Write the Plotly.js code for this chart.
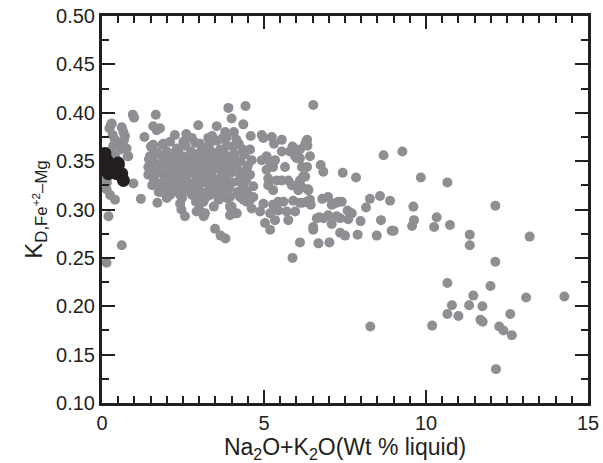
<!DOCTYPE html>
<html>
<head>
<meta charset="utf-8">
<script src="https://cdn.plot.ly/plotly-3.0.1.min.js"></script>
<style>
html,body{margin:0;padding:0;background:#fff;}
#chart{width:603px;height:463px;}
</style>
</head>
<body>
<div id="chart"></div>
<script>
// ---- Data (x = Na2O+K2O wt%, y = KD Fe2+-Mg) ----
// gray points, low-alkali column (x < 1.4)
const grayLowAlkali = [
  [0.27,0.387],[0.23,0.384],[0.95,0.398],[0.99,0.395],[0.30,0.389],[0.61,0.385],[0.66,0.380],
  [0.71,0.376],[0.33,0.377],[0.40,0.372],[0.35,0.366],[0.45,0.368],[0.50,0.367],[0.56,0.362],
  [0.76,0.363],[0.68,0.372],[0.81,0.355],[0.79,0.355],[0.97,0.327],[0.14,0.321],[0.25,0.315],
  [0.40,0.310],[0.20,0.293],[0.61,0.263],[0.14,0.245],[1.20,0.311],[1.31,0.375],
  [0.25,0.360],[0.40,0.355],[0.15,0.328],[0.55,0.345],[0.10,0.335]
];
// gray points, dense cloud (1.4 < x < 4.7)
const grayCloud = [
  [1.66,0.398],[1.58,0.386],[1.69,0.382],[1.79,0.384],[1.51,0.365],[1.58,0.367],[1.87,0.367],
  [2.25,0.377],[2.97,0.387],[3.54,0.386],[3.90,0.405],[4.43,0.407],[4.00,0.394],[4.36,0.388],
  [3.80,0.380],[3.85,0.375],[4.07,0.380],[1.48,0.355],[1.71,0.307],[2.41,0.306],[2.56,0.293],
  [2.92,0.298],[3.14,0.293],[3.49,0.280],[3.66,0.273],[3.81,0.270],[3.95,0.303],[3.95,0.294],
  [4.16,0.296],[1.43,0.344],[1.43,0.336],[1.58,0.356],[1.84,0.325],[1.84,0.318],[2.10,0.315],
  [2.41,0.315],[2.72,0.318],[3.02,0.315],[3.23,0.318],[2.00,0.360],[2.31,0.363],[2.51,0.370],
  [2.77,0.374],[3.02,0.368],[3.28,0.374],[1.89,0.368],[4.05,0.365],[4.05,0.353],[4.05,0.344],
  [4.26,0.336],[4.21,0.329],[4.36,0.324],[3.85,0.312],[4.00,0.303],[4.05,0.296],[4.26,0.313],
  [4.47,0.308],[3.64,0.315],[3.33,0.315],[3.13,0.308],[3.18,0.296],[4.57,0.362],[4.62,0.351],
  [4.57,0.336],[4.47,0.318],[4.57,0.310],[4.67,0.324],[4.36,0.310],[4.67,0.313],[4.62,0.301],
  [1.45,0.352],[1.52,0.340],[1.60,0.331],[1.62,0.348],[1.70,0.359],[1.72,0.338],[1.78,0.327],
  [1.80,0.346],[1.85,0.355],[1.90,0.336],[1.95,0.322],[1.98,0.349],[2.02,0.341],[2.05,0.331],
  [2.08,0.358],[2.12,0.326],[2.15,0.346],[2.18,0.336],[2.22,0.319],[2.25,0.353],[2.28,0.342],
  [2.32,0.330],[2.35,0.361],[2.38,0.323],[2.40,0.348],[2.43,0.337],[2.47,0.312],[2.50,0.355],
  [2.52,0.329],[2.55,0.343],[2.58,0.366],[2.60,0.320],[2.63,0.335],[2.66,0.351],[2.70,0.327],
  [2.72,0.344],[2.75,0.360],[2.78,0.315],[2.80,0.338],[2.83,0.352],[2.86,0.325],[2.88,0.369],
  [2.90,0.343],[2.93,0.332],[2.96,0.357],[2.99,0.320],[3.02,0.347],[3.05,0.337],[3.08,0.362],
  [3.10,0.328],[3.13,0.352],[3.16,0.341],[3.19,0.312],[3.22,0.357],[3.25,0.333],[3.28,0.346],
  [3.30,0.366],[3.33,0.324],[3.36,0.351],[3.39,0.339],[3.42,0.359],[3.45,0.318],[3.48,0.345],
  [3.50,0.331],[3.53,0.371],[3.56,0.354],[3.59,0.326],[3.62,0.342],[3.65,0.362],[3.68,0.334],
  [3.71,0.349],[3.74,0.321],[3.77,0.357],[3.80,0.340],[3.83,0.330],[3.86,0.366],[3.89,0.348],
  [3.92,0.322],[3.95,0.355],[3.98,0.338],[4.02,0.328],[4.10,0.357],[4.15,0.344],[4.18,0.318],
  [4.22,0.368],[4.28,0.350],[4.32,0.339],[4.40,0.357],[4.45,0.330],[4.50,0.345],[4.15,0.372],
  [3.70,0.373],[3.40,0.376],[2.60,0.378],[2.10,0.370],[1.75,0.318],[2.00,0.312],[2.90,0.308],
  [3.60,0.310],[3.95,0.313],[4.35,0.362],[1.55,0.325],[2.45,0.300],[3.00,0.300],[3.45,0.303]
];
// gray points, intermediate alkali (4.7 < x < 9.5)
const grayMid = [
  [6.52,0.408],[4.59,0.376],[4.93,0.377],[4.98,0.374],[5.24,0.375],[5.55,0.372],[5.31,0.368],
  [6.30,0.370],[6.34,0.366],[6.33,0.372],[5.88,0.365],[5.80,0.360],[5.96,0.355],[6.11,0.353],
  [6.42,0.355],[6.11,0.362],[6.27,0.367],[4.93,0.351],[5.08,0.355],[5.19,0.349],[5.34,0.351],
  [5.28,0.344],[5.65,0.344],[5.08,0.341],[5.55,0.360],[6.01,0.353],[6.75,0.346],[6.83,0.339],
  [7.43,0.338],[7.84,0.333],[6.17,0.344],[6.33,0.344],[6.27,0.334],[6.17,0.323],[6.36,0.321],
  [6.19,0.307],[6.42,0.310],[6.44,0.305],[5.13,0.332],[5.13,0.325],[5.28,0.320],[5.39,0.330],
  [5.55,0.330],[5.75,0.330],[5.86,0.325],[6.01,0.325],[6.11,0.330],[6.21,0.334],[6.06,0.320],
  [6.37,0.320],[4.98,0.306],[5.28,0.305],[5.44,0.308],[5.60,0.308],[5.90,0.309],[6.11,0.307],
  [6.32,0.308],[4.88,0.298],[5.19,0.296],[5.44,0.299],[5.70,0.298],[5.96,0.298],[5.03,0.286],
  [5.19,0.279],[5.34,0.289],[5.75,0.289],[5.88,0.250],[6.11,0.266],[6.80,0.311],[6.98,0.313],
  [7.09,0.305],[7.24,0.307],[7.40,0.308],[7.58,0.299],[7.71,0.296],[7.60,0.290],[6.71,0.292],
  [6.83,0.291],[6.98,0.294],[7.35,0.291],[7.09,0.285],[6.52,0.282],[6.52,0.279],[7.35,0.276],
  [7.50,0.273],[7.89,0.274],[7.98,0.288],[8.15,0.302],[8.27,0.311],[8.58,0.314],[8.89,0.309],
  [8.61,0.289],[8.48,0.273],[8.94,0.278],[9.00,0.278],[6.68,0.265],[7.02,0.266],[8.69,0.356],
  [9.27,0.360],[7.14,0.306],[7.30,0.308],[6.63,0.291],[7.24,0.293],[8.28,0.179]
];
// gray points, high alkali (x > 9.5)
const grayHigh = [
  [9.84,0.333],[10.66,0.328],[12.14,0.304],[9.61,0.303],[9.63,0.289],[9.57,0.283],[10.33,0.292],
  [10.25,0.282],[10.74,0.284],[11.35,0.274],[11.35,0.263],[13.20,0.272],[12.14,0.246],[10.66,0.224],
  [11.99,0.221],[11.46,0.211],[13.09,0.209],[14.27,0.210],[10.80,0.201],[11.33,0.201],[11.74,0.200],
  [10.66,0.192],[11.00,0.190],[12.60,0.192],[11.68,0.186],[11.75,0.184],[12.26,0.179],[12.39,0.175],
  [12.65,0.170],[10.19,0.180],[12.16,0.135]
];
// black points
const blackX = [0.06,0.15,0.05,0.35,0.50,0.30,0.61,0.66,0.09,0.09,0.50,0.20,0.45,0.06];
const blackY = [0.356,0.351,0.348,0.346,0.346,0.341,0.337,0.330,0.358,0.348,0.348,0.337,0.337,0.341];

// axis ticks / labels
const xRange = [0, 15];
const yRange = [0.10, 0.50];
const xTickStep = 5;
const yTickStep = 0.05;

const grayAll = grayLowAlkali.concat(grayCloud, grayMid, grayHigh);
const grayX = grayAll.map(p => p[0]);
const grayY = grayAll.map(p => p[1]);

const INK = '#231f20';
const FAM = '"Liberation Sans", Arial, sans-serif';

const traces = [
  {x: grayX, y: grayY, type: 'scatter', mode: 'markers',
   marker: {size: 10, color: '#8e8f92'}},
  {x: blackX, y: blackY, type: 'scatter', mode: 'markers',
   marker: {size: 13, color: INK}}
];

const layout = {
  width: 603, height: 463,
  margin: {l: 102, r: 15, t: 16, b: 60},
  paper_bgcolor: '#fff', plot_bgcolor: '#fff',
  showlegend: false,
  font: {family: FAM, size: 20, color: INK},
  xaxis: {
    range: xRange, dtick: xTickStep, tick0: 0,
    showline: true, linecolor: INK, linewidth: 3, mirror: 'allticks',
    ticks: 'inside', tickcolor: INK, tickwidth: 2, ticklen: 13,
    showgrid: false, zeroline: false,
    minor: {ticks: 'inside', dtick: 0.5, ticklen: 7, tickwidth: 2, tickcolor: INK, showgrid: false},
    title: {text: 'Na<sub>2</sub>O+K<sub>2</sub>O(Wt % liquid)', font: {size: 23}}
  },
  yaxis: {
    range: yRange, dtick: yTickStep, tick0: 0.1, tickformat: '.2f',
    showline: true, linecolor: INK, linewidth: 3, mirror: 'allticks',
    ticks: 'inside', tickcolor: INK, tickwidth: 2, ticklen: 13,
    showgrid: false, zeroline: false,
    minor: {ticks: 'inside', dtick: 0.025, ticklen: 7, tickwidth: 2, tickcolor: INK, showgrid: false},
    title: {text: 'K<sub>D,Fe<sup>+2</sup>–Mg</sub>', font: {size: 24}}
  }
};

Plotly.newPlot('chart', traces, layout, {displayModeBar: false, staticPlot: true});
</script>
</body>
</html>
